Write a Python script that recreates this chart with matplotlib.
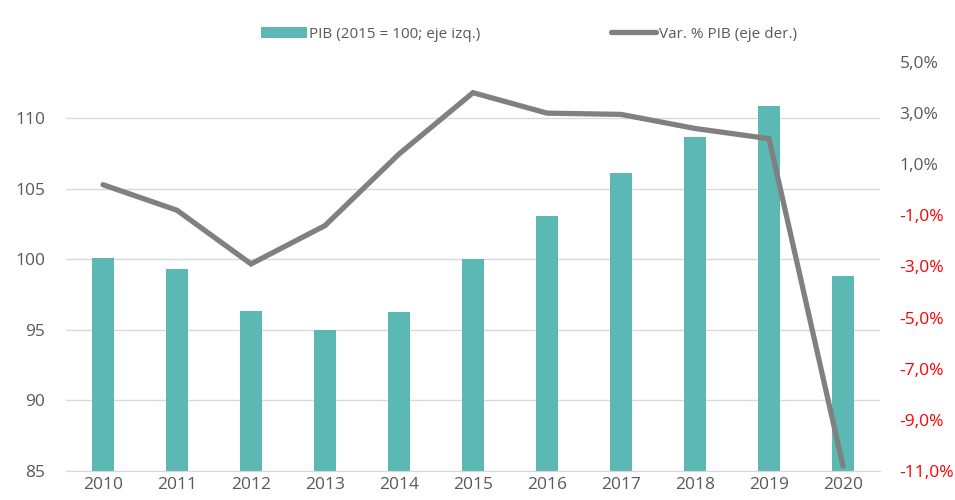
import matplotlib.pyplot as plt
from matplotlib.ticker import FixedLocator, FuncFormatter

years = ["2010", "2011", "2012", "2013", "2014", "2015", "2016", "2017", "2018", "2019", "2020"]
pib = [100.1, 99.3, 96.35, 95.0, 96.3, 100.0, 103.05, 106.1, 108.7, 110.85, 98.8]
var_pib = [0.2, -0.8, -2.9, -1.4, 1.4, 3.8, 3.0, 2.95, 2.4, 2.0, -10.8]

left_ticks = [85, 90, 95, 100, 105, 110]
right_ticks = [5, 3, 1, -1, -3, -5, -7, -9, -11]

BAR_COLOR = "#5bb8b2"
LINE_COLOR = "#808080"
TEXT_COLOR = "#595959"

plt.rcParams["font.family"] = ["Open Sans", "DejaVu Sans"]

fig = plt.figure(figsize=(9.55, 5.0), dpi=100)
ax = fig.add_axes([66 / 955, 29 / 500, 814 / 955, 409 / 500])
ax2 = ax.twinx()

x = list(range(len(years)))
bars = ax.bar(x, pib, width=0.31, color=BAR_COLOR, zorder=2, label="PIB (2015 = 100; eje izq.)")
line, = ax2.plot(x, var_pib, color=LINE_COLOR, lw=3.8, solid_capstyle="round",
                 solid_joinstyle="miter", zorder=3, label="Var. % PIB (eje der.)")

ax.set_xlim(-0.5, len(years) - 0.5)
ax.set_ylim(85, 114)
ax2.set_ylim(-11, 5)

ax.yaxis.set_major_locator(FixedLocator(left_ticks))
ax.grid(axis="y", color="#d9d9d9", lw=1, zorder=0)
ax.set_axisbelow(True)
ax.set_xticks(x)
ax.set_xticklabels(years)

ax2.yaxis.set_major_locator(FixedLocator(right_ticks))
ax2.yaxis.set_major_formatter(FuncFormatter(lambda v, p: f"{v:.1f}%".replace(".", ",")))

for a in (ax, ax2):
    for s in a.spines.values():
        s.set_visible(False)
    a.tick_params(length=0, labelsize=12.5, colors=TEXT_COLOR)
ax.tick_params(axis="y", pad=15)
ax.tick_params(axis="x", pad=4)
ax2.tick_params(axis="y", pad=14)
ax.spines["bottom"].set_visible(True)
ax.spines["bottom"].set_color("#d9d9d9")

for lbl, v in zip(ax2.get_yticklabels(), right_ticks):
    if v < 0:
        lbl.set_color("red")

ax.set_zorder(ax2.get_zorder() - 1)
ax.patch.set_visible(False)

fig.legend(handles=[bars, line], loc="center", bbox_to_anchor=(529 / 955, 1 - 34 / 500),
           ncol=2, frameon=False, labelcolor=TEXT_COLOR,
           columnspacing=8.5, handlelength=3.0, handletextpad=0.15,
           prop={"family": ["Open Sans", "DejaVu Sans"], "size": 11})

fig.savefig("out.png", dpi=100)
